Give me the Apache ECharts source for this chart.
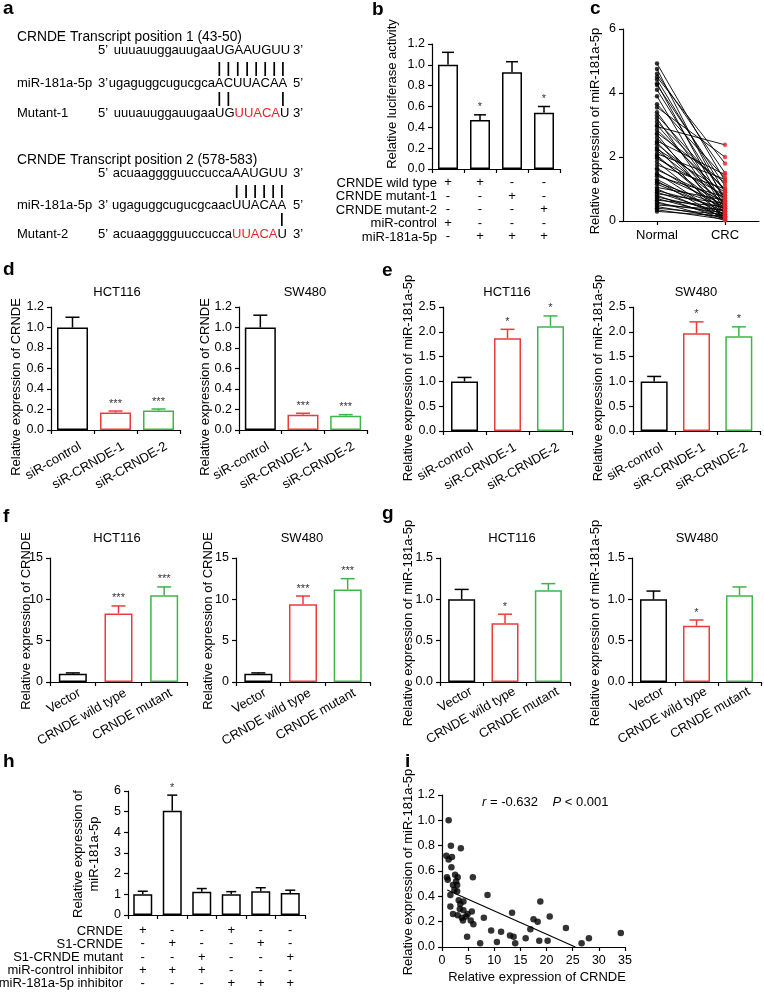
<!DOCTYPE html>
<html>
<head>
<meta charset="utf-8">
<script src="https://cdn.jsdelivr.net/npm/echarts@6/dist/echarts.min.js"></script>
<style>
html, body { margin: 0; padding: 0; background: #fff; }
#fig { width: 764px; height: 992px; }
</style>
</head>
<body>
<div id="fig"></div>
<script>
// ---------- data ----------
var RED = '#ec3b3b', GREEN = '#3cb54b', BLACK = '#000';
var triColors = [BLACK, RED, GREEN];

// a: binding sites
var site1Title = 'CRNDE Transcript position 1 (43-50)';
var site1Lower = ['uuuauuggauugaa', 'ugaguggcugucgca', 'uuuauuggauugaa'];
var site1Upper = ['UGAAUGUU', 'ACUUACAA', 'UGUUACAU'];
var site2Title = 'CRNDE Transcript position 2 (578-583)';
var site2Lower = ['acuaagggguuccucca', 'ugaguggcugucgcaac', 'acuaagggguuccucca'];
var site2Upper = ['AAUGUU', 'UUACAA', 'UUACAU'];

// b: luciferase
var bLanes = ['1', '2', '3', '4'];
var bRows = ['CRNDE wild type', 'CRNDE mutant-1', 'CRNDE mutant-2', 'miR-control', 'miR-181a-5p'];
var bSigns = [['+', '-', '-', '+', '-'], ['+', '-', '-', '-', '+'], ['-', '+', '-', '-', '+'], ['-', '-', '+', '-', '+']];
var bValues = [1.0, 0.47, 0.93, 0.54];
var bUpper = [1.12, 0.52, 1.03, 0.60];
var bStars = ['', '*', '', '*'];

// c: paired normal / CRC
var cCats = ['Normal', 'CRC'];
var cNormal = [4.92, 4.75, 4.6, 4.5, 4.42, 4.3, 4.25, 4.1, 3.9, 3.65, 3.55, 3.4, 3.3, 3.2, 3.1, 3.0, 2.95, 2.85, 2.75, 2.7,
  2.6, 2.5, 2.45, 2.4, 2.3, 2.25, 2.2, 2.1, 2.05, 2.0, 1.95, 1.85, 1.75, 1.65, 1.6, 1.5, 1.45, 1.4, 1.3, 1.25,
  1.2, 1.15, 1.05, 1.0, 0.95, 0.9, 0.85, 0.8, 0.75, 0.7, 0.65, 0.6, 0.55, 0.5, 0.45, 0.4, 0.35, 0.3];
var cCRC = [1.25, 0.6, 1.5, 1.8, 0.9, 0.4, 1.1, 0.7, 0.3, 1.35, 2.0, 0.5, 0.95, 0.2, 1.0, 0.6, 2.38, 0.8, 1.2, 0.1,
  0.45, 1.45, 0.3, 0.7, 0.05, 0.9, 0.55, 1.3, 0.25, 0.4, 0.8, 0.15, 1.0, 0.35, 0.6, 0.1, 0.5, 0.75, 0.2, 0.05,
  0.45, 0.3, 0.65, 0.1, 0.4, 0.2, 0.55, 0.05, 0.3, 0.15, 0.45, 0.02, 0.25, 0.35, 0.1, 0.2, 0.05, 0.15];

// d: siRNA -> CRNDE
var siCats = ['siR-control', 'siR-CRNDE-1', 'siR-CRNDE-2'];
var dHctValues = [1.0, 0.17, 0.19], dHctUpper = [1.10, 0.185, 0.205];
var dSwValues = [1.0, 0.15, 0.14], dSwUpper = [1.12, 0.163, 0.15];
var dStars = ['', '***', '***'];
// e: siRNA -> miR-181a-5p
var eHctValues = [1.0, 1.87, 2.11], eHctUpper = [1.08, 2.05, 2.32];
var eSwValues = [1.0, 1.97, 1.91], eSwUpper = [1.10, 2.20, 2.10];
var eStars = ['', '*', '*'];
// f: overexpression -> CRNDE
var ovCats = ['Vector', 'CRNDE wild type', 'CRNDE mutant'];
var fHctValues = [1.0, 8.3, 10.5], fHctUpper = [1.1, 9.2, 11.5];
var fSwValues = [1.0, 9.4, 11.2], fSwUpper = [1.1, 10.4, 12.5];
var fStars = ['', '***', '***'];
// g: overexpression -> miR-181a-5p
var gHctValues = [1.0, 0.71, 1.11], gHctUpper = [1.12, 0.82, 1.19];
var gSwValues = [1.0, 0.68, 1.05], gSwUpper = [1.10, 0.75, 1.15];
var gStars = ['', '*', ''];

// h: pull-down
var hLanes = ['1', '2', '3', '4', '5', '6'];
var hRows = ['CRNDE', 'S1-CRNDE', 'S1-CRNDE mutant', 'miR-control inhibitor', 'miR-181a-5p inhibitor'];
var hSigns = [['+', '-', '-', '+', '-'], ['-', '+', '-', '+', '-'], ['-', '-', '+', '+', '-'],
  ['+', '-', '-', '-', '+'], ['-', '+', '-', '-', '+'], ['-', '-', '+', '-', '+']];
var hValues = [1.0, 5.05, 1.12, 1.0, 1.15, 1.07];
var hUpper = [1.15, 5.8, 1.28, 1.13, 1.32, 1.2];
var hStars = ['', '*', '', '', '', ''];

// i: correlation
var iCRNDE = [1.27, 1.7, 3.6, 0.83, 1.27, 1.9, 1.8, 0.95, 1.1, 2.5, 3.0, 2.7, 2.1, 2.9, 2.35, 2.9, 5.9, 1.6, 8.7, 3.2,
  4.1, 3.5, 1.6, 18.8, 3.4, 4.1, 2.1, 3.0, 3.8, 4.9, 5.7, 4.0, 4.6, 5.5, 6.0, 8.0, 13.4, 17.5, 18.3, 20.6,
  9.4, 11.3, 16.9, 23.7, 13.0, 13.7, 4.8, 7.3, 10.5, 14.0, 16.0, 18.6, 20.2, 26.7, 28.1, 34.2];
var iMiR = [1.0, 0.80, 0.78, 0.72, 0.69, 0.71, 0.63, 0.55, 0.53, 0.57, 0.55, 0.52, 0.49, 0.49, 0.45, 0.44, 0.55, 0.41, 0.41, 0.37,
  0.36, 0.34, 0.32, 0.36, 0.30, 0.29, 0.26, 0.25, 0.23, 0.26, 0.28, 0.21, 0.24, 0.21, 0.18, 0.23, 0.27, 0.22, 0.20, 0.24,
  0.13, 0.12, 0.14, 0.15, 0.09, 0.08, 0.08, 0.03, 0.04, 0.03, 0.07, 0.05, 0.05, 0.03, 0.07, 0.11];
var fitIntercept = 0.468, fitSlope = -0.01837, fitFrom = 1.0, fitTo = 25.5;

// ---------- build ----------
var FAM = '"Liberation Sans", Arial, sans-serif';
var F13 = '13px ' + FAM;
var grids = [], xAxes = [], yAxes = [], series = [], graphics = [];

function txt(x, y, s, o) {
  o = o || {};
  var el = {
    type: 'text', x: x, y: y, silent: true,
    style: {
      text: s, font: o.font || F13, fill: o.fill || '#000',
      textAlign: o.align || 'left', align: o.align || 'left',
      textVerticalAlign: o.valign || 'middle', verticalAlign: o.valign || 'middle',
      lineHeight: o.lineHeight
    }
  };
  if (o.rotate) el.rotation = o.rotate;
  if (o.rich) el.style.rich = o.rich;
  return el;
}
function vtxt(x, y, s, o) {
  o = o || {};
  o.align = 'center'; o.rotate = Math.PI / 2;
  return txt(x, y, s, o);
}
function line(x1, y1, x2, y2, w) {
  return { type: 'line', silent: true, shape: { x1: x1, y1: y1, x2: x2, y2: y2 }, style: { stroke: '#000', lineWidth: w || 1.5 } };
}

var axisLineStyle = { show: true, lineStyle: { color: '#000', width: 1.2 } };
var tickStyle = { show: true, length: 4, inside: false, lineStyle: { color: '#000', width: 1.2 } };

function addGrid(left, top, width, height) {
  grids.push({ left: left, top: top, width: width, height: height, outerBoundsMode: 'none', containLabel: false });
  return grids.length - 1;
}
function valueAxis(gi, max, step, dec) {
  return {
    gridIndex: gi, type: 'value', min: 0, max: max, interval: step,
    axisLine: axisLineStyle, axisTick: tickStyle, splitLine: { show: false },
    axisLabel: { color: '#000', fontSize: 12.5, fontFamily: FAM, margin: 7,
      formatter: function (v) { return v.toFixed(dec); } }
  };
}

function errRenderer(colors, stars, cap) {
  return function (params, api) {
    var i = api.value(0);
    var p0 = api.coord([i, api.value(1)]);
    var p1 = api.coord([i, api.value(2)]);
    var c = colors[params.dataIndex];
    var ch = [
      { type: 'line', shape: { x1: p0[0], y1: p0[1], x2: p1[0], y2: p1[1] }, style: { stroke: c, lineWidth: 1.5 } },
      { type: 'line', shape: { x1: p0[0] - cap / 2, y1: p1[1], x2: p0[0] + cap / 2, y2: p1[1] }, style: { stroke: c, lineWidth: 1.5 } }
    ];
    var s = stars[params.dataIndex];
    if (s) ch.push({ type: 'text', style: { text: s, x: p1[0], y: p1[1] - 2, font: '11px ' + FAM, fill: '#333',
      textAlign: 'center', align: 'center', textVerticalAlign: 'bottom', verticalAlign: 'bottom' } });
    return { type: 'group', children: ch };
  };
}

function addBarPanel(p) {
  var gi = addGrid(p.left, p.top, p.width, p.height);
  var xa = {
    gridIndex: gi, type: 'category', data: p.cats,
    axisLine: axisLineStyle, axisTick: tickStyle,
    axisLabel: { color: '#000', fontSize: 13, fontFamily: FAM, interval: 0, rotate: p.rotate || 0, margin: p.margin || 6 }
  };
  if (p.shift) xa.axisLabel.padding = [0, -p.shift, 0, 0];
  if (p.signs) {
    xa.axisLabel.formatter = function (v, idx) { return p.signs[idx].join('\n'); };
    xa.axisLabel.lineHeight = p.rowH;
  }
  xAxes.push(xa);
  yAxes.push(valueAxis(gi, p.max, p.step, p.dec));
  series.push({
    type: 'bar', xAxisIndex: gi, yAxisIndex: gi, barWidth: p.barWidth, silent: true,
    data: p.values.map(function (v, i) {
      return { value: v, itemStyle: { color: '#fff', borderColor: p.colors[i], borderWidth: 1.5 } };
    })
  });
  series.push({
    type: 'custom', xAxisIndex: gi, yAxisIndex: gi, silent: true, z: 3,
    data: p.values.map(function (v, i) { return [i, v, p.upper[i]]; }),
    renderItem: errRenderer(p.colors, p.stars, p.cap)
  });
  return gi;
}

// panel labels
[['a', 3, 9], ['b', 372, 10], ['c', 590, 9], ['d', 3, 270], ['e', 382, 271], ['f', 3, 517], ['g', 382, 514], ['h', 3, 762], ['i', 405, 762]]
  .forEach(function (l) { graphics.push(txt(l[1], l[2], l[0], { font: 'bold 19px ' + FAM })); });

// ---- a ----
var mctx = document.createElement('canvas').getContext('2d');
function tw(s) { mctx.font = F13; return mctx.measureText(s).width; }
function seqBlock(title, titleY, segX, rowY, lowers, uppers, redRange, pairs, barY) {
  var names = ['', 'miR-181a-5p', title.indexOf('1 (') > 0 ? 'Mutant-1' : 'Mutant-2'];
  var p5 = ['5’', '3’', '5’'], p3 = ['3’', '5’', '3’'];
  graphics.push(txt(17, titleY, title, { font: '13.8px ' + FAM }));
  var centers = [];
  for (var r = 0; r < 3; r++) {
    var y = rowY[r];
    if (names[r]) graphics.push(txt(17, y, names[r]));
    graphics.push(txt(98, y, p5[r]));
    graphics.push(txt(segX, y, lowers[r], { align: 'right' }));
    var x = segX, cs = [];
    for (var k = 0; k < uppers[r].length; k++) {
      var chr = uppers[r][k], w = tw(chr);
      var isRed = r === 2 && k >= redRange[0] && k <= redRange[1];
      graphics.push(txt(x, y, chr, { fill: isRed ? '#e8262a' : '#000' }));
      cs.push(x + w / 2); x += w;
    }
    graphics.push(txt(293, y, p3[r]));
    centers.push(cs);
  }
  pairs.forEach(function (idxs, j) {
    idxs.forEach(function (k) {
      var cx = centers[1][k];
      graphics.push(line(cx, barY[j][0], cx, barY[j][1], 1.7));
    });
  });
}
seqBlock(site1Title, 37, 215, [50, 83, 113], site1Lower, site1Upper, [2, 6],
  [[0, 1, 2, 3, 4, 5, 6, 7], [0, 1, 7]], [[62, 76], [92, 106]]);
seqBlock(site2Title, 160, 232, [173, 205, 234], site2Lower, site2Upper, [0, 4],
  [[0, 1, 2, 3, 4, 5], [5]], [[185, 198], [213, 226]]);

// ---- b ----
addBarPanel({ left: 432, top: 44, width: 128, height: 125, cats: bLanes, values: bValues, upper: bUpper, stars: bStars,
  colors: [BLACK, BLACK, BLACK, BLACK], max: 1.2, step: 0.2, dec: 1, barWidth: 20, cap: 12,
  signs: bSigns, rowH: 13.5, margin: 7 });
bRows.forEach(function (s, i) { graphics.push(txt(437, 183 + i * 13.5, s, { align: 'right' })); });
graphics.push(vtxt(392, 94, 'Relative luciferase activity'));

// ---- c ----
(function () {
  var gi = addGrid(623, 29, 136, 192);
  xAxes.push({ gridIndex: gi, type: 'category', data: cCats, boundaryGap: true,
    axisLine: axisLineStyle, axisTick: { show: true, length: 4, alignWithLabel: true, lineStyle: { color: '#000', width: 1.2 } },
    axisLabel: { color: '#000', fontSize: 13, fontFamily: FAM, margin: 8 } });
  yAxes.push(valueAxis(gi, 6, 2, 0));
  cNormal.forEach(function (v, i) {
    series.push({ type: 'line', xAxisIndex: gi, yAxisIndex: gi, silent: true, symbol: 'none',
      lineStyle: { color: '#000', width: 0.9 }, data: [v, cCRC[i]] });
  });
  series.push({ type: 'scatter', xAxisIndex: gi, yAxisIndex: gi, silent: true, symbolSize: 4.5, z: 4,
    itemStyle: { color: '#000' }, data: cNormal.map(function (v) { return [0, v]; }) });
  series.push({ type: 'scatter', xAxisIndex: gi, yAxisIndex: gi, silent: true, symbolSize: 4.5, z: 4,
    itemStyle: { color: '#e8262a' }, data: cCRC.map(function (v) { return [1, v]; }) });
  graphics.push(vtxt(595, 131, 'Relative expression of miR-181a-5p'));
})();

// ---- d ----
addBarPanel({ left: 51, top: 307, width: 129, height: 123, cats: siCats, values: dHctValues, upper: dHctUpper, stars: dStars,
  colors: triColors, max: 1.2, step: 0.2, dec: 1, barWidth: 31, cap: 14, rotate: 30, margin: 20, shift: 9 });
addBarPanel({ left: 239, top: 307, width: 128, height: 123, cats: siCats, values: dSwValues, upper: dSwUpper, stars: dStars,
  colors: triColors, max: 1.2, step: 0.2, dec: 1, barWidth: 31, cap: 14, rotate: 30, margin: 20, shift: 9 });
graphics.push(txt(117, 292, 'HCT116', { align: 'center' }));
graphics.push(txt(305, 292, 'SW480', { align: 'center' }));
graphics.push(vtxt(16, 387, 'Relative expression of CRNDE'));
graphics.push(vtxt(205, 387, 'Relative expression of CRNDE'));

// ---- e ----
addBarPanel({ left: 443, top: 307, width: 129, height: 124, cats: siCats, values: eHctValues, upper: eHctUpper, stars: eStars,
  colors: triColors, max: 2.5, step: 0.5, dec: 1, barWidth: 27, cap: 14, rotate: 30, margin: 20, shift: 9 });
addBarPanel({ left: 633, top: 307, width: 127, height: 124, cats: siCats, values: eSwValues, upper: eSwUpper, stars: eStars,
  colors: triColors, max: 2.5, step: 0.5, dec: 1, barWidth: 27, cap: 14, rotate: 30, margin: 20, shift: 9 });
graphics.push(txt(507, 292, 'HCT116', { align: 'center' }));
graphics.push(txt(696, 292, 'SW480', { align: 'center' }));
graphics.push(vtxt(408, 378, 'Relative expression of miR-181a-5p'));
graphics.push(vtxt(598, 378, 'Relative expression of miR-181a-5p'));

// ---- f ----
addBarPanel({ left: 50, top: 558, width: 137, height: 124, cats: ovCats, values: fHctValues, upper: fHctUpper, stars: fStars,
  colors: triColors, max: 15, step: 5, dec: 0, barWidth: 28, cap: 14, rotate: 30, margin: 14, shift: 8 });
addBarPanel({ left: 236, top: 558, width: 134, height: 124, cats: ovCats, values: fSwValues, upper: fSwUpper, stars: fStars,
  colors: triColors, max: 15, step: 5, dec: 0, barWidth: 28, cap: 14, rotate: 30, margin: 14, shift: 8 });
graphics.push(txt(117, 538, 'HCT116', { align: 'center' }));
graphics.push(txt(302, 538, 'SW480', { align: 'center' }));
graphics.push(vtxt(26, 621, 'Relative expression of CRNDE'));
graphics.push(vtxt(208, 621, 'Relative expression of CRNDE'));

// ---- g ----
addBarPanel({ left: 440, top: 558, width: 130, height: 124, cats: ovCats, values: gHctValues, upper: gHctUpper, stars: gStars,
  colors: triColors, max: 1.5, step: 0.5, dec: 1, barWidth: 27, cap: 14, rotate: 30, margin: 14, shift: 11 });
addBarPanel({ left: 632, top: 558, width: 129, height: 124, cats: ovCats, values: gSwValues, upper: gSwUpper, stars: gStars,
  colors: triColors, max: 1.5, step: 0.5, dec: 1, barWidth: 27, cap: 14, rotate: 30, margin: 14, shift: 11 });
graphics.push(txt(512, 538, 'HCT116', { align: 'center' }));
graphics.push(txt(697, 538, 'SW480', { align: 'center' }));
graphics.push(vtxt(408, 623, 'Relative expression of miR-181a-5p'));
graphics.push(vtxt(595, 623, 'Relative expression of miR-181a-5p'));

// ---- h ----
addBarPanel({ left: 128, top: 791, width: 177, height: 124, cats: hLanes, values: hValues, upper: hUpper, stars: hStars,
  colors: [BLACK, BLACK, BLACK, BLACK, BLACK, BLACK], max: 6, step: 1, dec: 0, barWidth: 19, cap: 10,
  signs: hSigns, rowH: 13.2, margin: 9 });
hRows.forEach(function (s, i) { graphics.push(txt(123, 931 + i * 13.2, s, { align: 'right' })); });
graphics.push(vtxt(86, 854, 'Relative expression of\nmiR-181a-5p', { lineHeight: 16 }));

// ---- i ----
(function () {
  var gi = addGrid(442, 795, 183, 152);
  xAxes.push({ gridIndex: gi, type: 'value', min: 0, max: 35, interval: 5,
    axisLine: axisLineStyle, axisTick: tickStyle, splitLine: { show: false },
    axisLabel: { color: '#000', fontSize: 12.5, fontFamily: FAM, margin: 7 } });
  yAxes.push(valueAxis(gi, 1.2, 0.2, 1));
  series.push({ type: 'scatter', xAxisIndex: gi, yAxisIndex: gi, silent: true, symbolSize: 6.5,
    itemStyle: { color: '#000' }, data: iCRNDE.map(function (v, k) { return [v, iMiR[k]]; }) });
  series.push({ type: 'line', xAxisIndex: gi, yAxisIndex: gi, silent: true, symbol: 'none',
    lineStyle: { color: '#000', width: 1.2 },
    data: [[fitFrom, fitIntercept + fitSlope * fitFrom], [fitTo, fitIntercept + fitSlope * fitTo]] });
  graphics.push(txt(482, 802, '{it|r} = -0.632    {it|P} < 0.001', { rich: { it: { fontStyle: 'italic', fontSize: 13, fontFamily: FAM } } }));
  graphics.push(txt(537, 977, 'Relative expression of CRNDE', { align: 'center' }));
  graphics.push(vtxt(408, 872, 'Relative expression of miR-181a-5p'));
})();

var chart = echarts.init(document.getElementById('fig'));
chart.setOption({
  animation: false,
  backgroundColor: '#fff',
  grid: grids,
  xAxis: xAxes,
  yAxis: yAxes,
  series: series,
  graphic: { elements: graphics }
});
</script>
</body>
</html>
